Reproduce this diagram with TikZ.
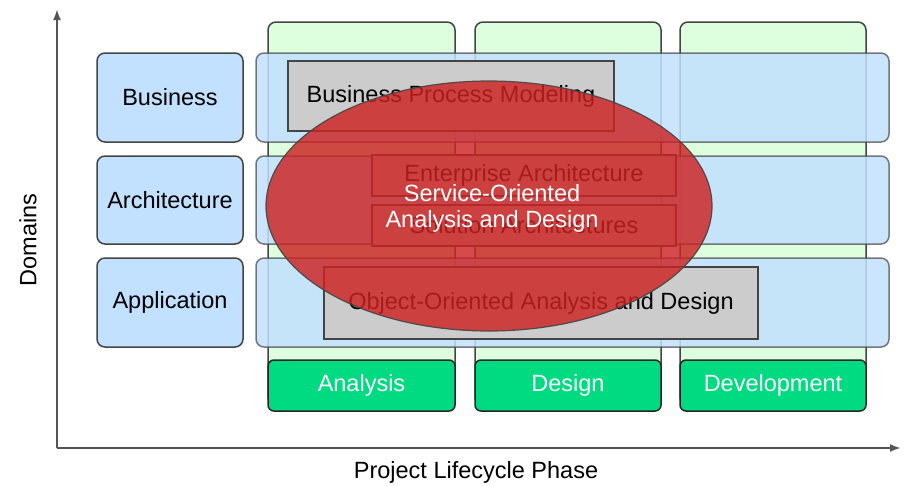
\documentclass[tikz,border=0pt]{standalone}
\usepackage{fontspec}
\setmainfont{Liberation Sans}
\usetikzlibrary{arrows.meta,shapes.geometric}
\definecolor{dombl}{HTML}{C2E0FF}
\definecolor{colgr}{HTML}{DDFFDD}
\definecolor{labgr}{HTML}{00DB82}
\definecolor{boxgy}{HTML}{CCCCCC}
\definecolor{elred}{HTML}{CC2222}
\definecolor{edge}{HTML}{444444}
\definecolor{axisc}{HTML}{555555}
\begin{document}
\begin{tikzpicture}[x=1pt,y=-1pt,
  every node/.style={inner sep=0pt, outer sep=0pt, font=\fontsize{23.5}{26}\selectfont, align=center},
  dombox/.style={draw=edge, line width=1.5pt, fill=dombl, rounded corners=8pt},
  rowbox/.style={draw=edge, draw opacity=0.7, line width=1.5pt, fill=dombl, fill opacity=0.85, rounded corners=8pt},
  colbox/.style={draw=edge, line width=1.5pt, fill=colgr, rounded corners=8pt},
  labbox/.style={draw=black!85, line width=1.5pt, fill=labgr, rounded corners=6pt, text=white},
  gbox/.style={draw=edge, line width=1.5pt, fill=boxgy},
  axisline/.style={draw=axisc, line width=2pt, -{Latex[length=11pt,width=8pt]}}
]
\useasboundingbox (0,0) rectangle (904,485);
% axes
\coordinate (orig) at (57,448);
\coordinate (ytop) at (57,9);
\coordinate (xend) at (901,448);
\draw[axisline] (orig) -- (ytop);
\draw[axisline] (orig) -- (xend);
\node[rotate=90] (domains) at (28,240) {Domains};
\node (plp) at (476,472) {Project Lifecycle Phase};
% phase columns
\node[colbox, minimum width=187pt, minimum height=383pt] (c1) at (361.5,213.5) {};
\node[colbox, minimum width=186pt, minimum height=383pt] (c2) at (568,213.5) {};
\node[colbox, minimum width=186pt, minimum height=383pt] (c3) at (773,213.5) {};
\node[labbox, minimum width=187pt, minimum height=51pt] (l1) at (361.5,385.5) {Analysis};
\node[labbox, minimum width=186pt, minimum height=51pt] (l2) at (568,385.5) {Design};
\node[labbox, minimum width=186pt, minimum height=51pt] (l3) at (773,385.5) {Development};
% domain boxes
\node[dombox, minimum width=146pt, minimum height=89pt] (d1) at (170,97.5) {Business};
\node[dombox, minimum width=146pt, minimum height=88pt] (d2) at (170,200) {Architecture};
\node[dombox, minimum width=146pt, minimum height=89pt] (d3) at (170,302.5) {Application};
% rows
\node[rowbox, minimum width=633pt, minimum height=89pt] (r1) at (572.5,97.5) {};
\node[rowbox, minimum width=633pt, minimum height=88pt] (r2) at (572.5,200) {};
\node[rowbox, minimum width=633pt, minimum height=89pt] (r3) at (572.5,302.5) {};
% gray boxes
\node[gbox, minimum width=326pt, minimum height=70pt] (bpm) at (451,96) {Business Process Modeling};
\node[gbox, minimum width=304pt, minimum height=41pt] (ea) at (524,175.5) {Enterprise Architecture};
\node[gbox, minimum width=304pt, minimum height=41pt] (sa) at (524,225.5) {Solution Architectures};
\node[gbox, minimum width=434pt, minimum height=72pt] (ooad) at (541,303) {Object-Oriented Analysis and Design};
% ellipse
\node[ellipse, draw=edge, line width=1.2pt, fill=elred, fill opacity=0.82, draw opacity=0.9, minimum width=446pt, minimum height=250pt] (soad) at (489,206) {};
\node[text=white] (soadt) at (492,208) {Service-Oriented\\Analysis and Design};
\end{tikzpicture}
\end{document}
